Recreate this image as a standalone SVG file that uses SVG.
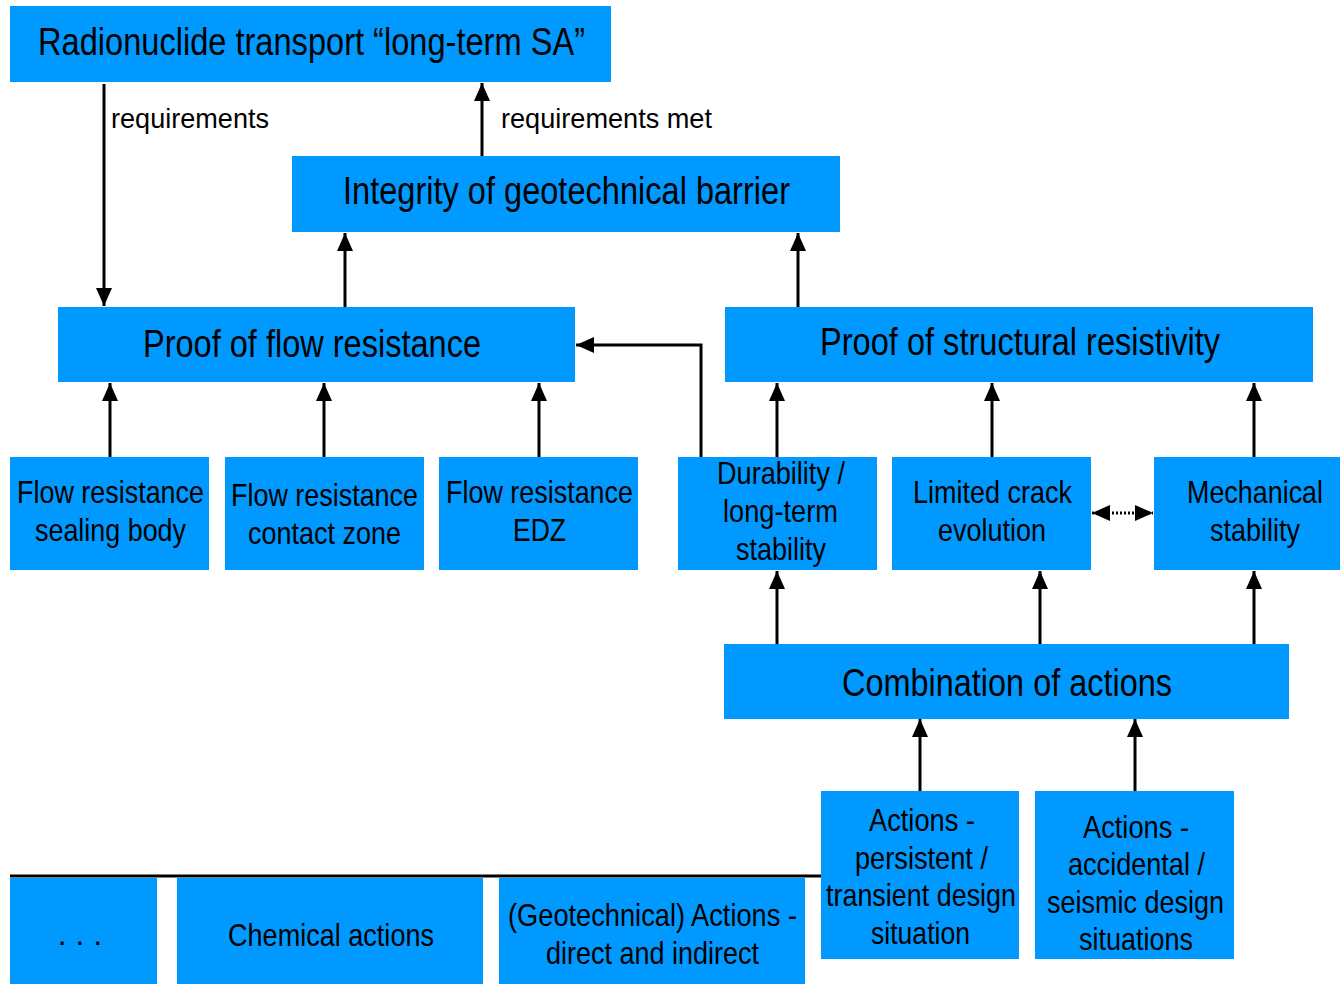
<svg xmlns="http://www.w3.org/2000/svg" width="1340" height="984" viewBox="0 0 1340 984">
<style>
.box{fill:#0099FF;}
text{font-family:"Liberation Sans",Arial,sans-serif;fill:#000;text-anchor:middle;}
.t1{font-size:38px;}
.t2{font-size:32px;}
.lbl{font-size:28px;text-anchor:start;}
.c{stroke:#000;stroke-width:3;fill:none;}
.dot{stroke:#000;stroke-width:3;fill:none;stroke-dasharray:2 2;}
</style>
<defs>
<marker id="ah" markerUnits="userSpaceOnUse" markerWidth="20" markerHeight="16" refX="18" refY="8" orient="auto-start-reverse">
<path d="M0,0 L18,8 L0,16 Z" fill="#000"/>
</marker>
</defs>
<rect x="0" y="0" width="1340" height="984" fill="#fff"/>

<g id="connectors">
<line class="c" x1="104" y1="84" x2="104" y2="306" marker-end="url(#ah)"/>
<line class="c" x1="482" y1="156" x2="482" y2="83" marker-end="url(#ah)"/>
<line class="c" x1="345" y1="307" x2="345" y2="233" marker-end="url(#ah)"/>
<line class="c" x1="798" y1="307" x2="798" y2="233" marker-end="url(#ah)"/>
<line class="c" x1="110" y1="457" x2="110" y2="383" marker-end="url(#ah)"/>
<line class="c" x1="324" y1="457" x2="324" y2="383" marker-end="url(#ah)"/>
<line class="c" x1="539" y1="457" x2="539" y2="383" marker-end="url(#ah)"/>
<line class="c" x1="777" y1="457" x2="777" y2="383" marker-end="url(#ah)"/>
<line class="c" x1="992" y1="457" x2="992" y2="383" marker-end="url(#ah)"/>
<line class="c" x1="1254" y1="457" x2="1254" y2="383" marker-end="url(#ah)"/>
<path class="c" d="M701,457 V345 H576" marker-end="url(#ah)"/>
<line class="dot" x1="1092" y1="513" x2="1153" y2="513" marker-start="url(#ah)" marker-end="url(#ah)"/>
<line class="c" x1="777" y1="644" x2="777" y2="571" marker-end="url(#ah)"/>
<line class="c" x1="1040" y1="644" x2="1040" y2="571" marker-end="url(#ah)"/>
<line class="c" x1="1254" y1="644" x2="1254" y2="571" marker-end="url(#ah)"/>
<line class="c" x1="920" y1="791" x2="920" y2="719" marker-end="url(#ah)"/>
<line class="c" x1="1135" y1="791" x2="1135" y2="719" marker-end="url(#ah)"/>
<line class="c" x1="10" y1="876" x2="821" y2="876"/>
</g>

<g id="n-radionuclide">
<rect class="box" x="10" y="6" width="601" height="76"/>
<text class="t1" x="311.5" y="55" textLength="547" lengthAdjust="spacingAndGlyphs">Radionuclide transport “long-term SA”</text>
</g>
<g id="l-requirements">
<text class="lbl" x="111" y="128" textLength="158" lengthAdjust="spacingAndGlyphs">requirements</text>
</g>
<g id="l-requirements-met">
<text class="lbl" x="501" y="128" textLength="211" lengthAdjust="spacingAndGlyphs">requirements met</text>
</g>
<g id="n-integrity">
<rect class="box" x="292" y="156" width="548" height="76"/>
<text class="t1" x="566.5" y="204" textLength="447" lengthAdjust="spacingAndGlyphs">Integrity of geotechnical barrier</text>
</g>
<g id="n-flow">
<rect class="box" x="58" y="307" width="517" height="75"/>
<text class="t1" x="312" y="357" textLength="338" lengthAdjust="spacingAndGlyphs">Proof of flow resistance</text>
</g>
<g id="n-structural">
<rect class="box" x="725" y="307" width="588" height="75"/>
<text class="t1" x="1020" y="355" textLength="400" lengthAdjust="spacingAndGlyphs">Proof of structural resistivity</text>
</g>

<g id="n-sealing">
<rect class="box" x="10" y="457" width="199" height="113"/>
<text class="t2" x="110.5" y="503" textLength="187" lengthAdjust="spacingAndGlyphs">Flow resistance</text>
<text class="t2" x="110.5" y="541" textLength="151" lengthAdjust="spacingAndGlyphs">sealing body</text>
</g>
<g id="n-contact">
<rect class="box" x="225" y="457" width="199" height="113"/>
<text class="t2" x="324.5" y="506" textLength="187" lengthAdjust="spacingAndGlyphs">Flow resistance</text>
<text class="t2" x="324.5" y="544" textLength="153" lengthAdjust="spacingAndGlyphs">contact zone</text>
</g>
<g id="n-edz">
<rect class="box" x="439" y="457" width="199" height="113"/>
<text class="t2" x="539.5" y="503" textLength="187" lengthAdjust="spacingAndGlyphs">Flow resistance</text>
<text class="t2" x="539.5" y="541" textLength="53" lengthAdjust="spacingAndGlyphs">EDZ</text>
</g>
<g id="n-durability">
<rect class="box" x="678" y="457" width="199" height="113"/>
<text class="t2" x="781" y="484" textLength="128" lengthAdjust="spacingAndGlyphs">Durability /</text>
<text class="t2" x="780.5" y="522" textLength="115" lengthAdjust="spacingAndGlyphs">long-term</text>
<text class="t2" x="781" y="560" textLength="90" lengthAdjust="spacingAndGlyphs">stability</text>
</g>
<g id="n-crack">
<rect class="box" x="892" y="457" width="199" height="113"/>
<text class="t2" x="992.5" y="503" textLength="159" lengthAdjust="spacingAndGlyphs">Limited crack</text>
<text class="t2" x="992" y="541" textLength="108" lengthAdjust="spacingAndGlyphs">evolution</text>
</g>
<g id="n-mechanical">
<rect class="box" x="1154" y="457" width="186" height="113"/>
<text class="t2" x="1255" y="503" textLength="136" lengthAdjust="spacingAndGlyphs">Mechanical</text>
<text class="t2" x="1255" y="541" textLength="90" lengthAdjust="spacingAndGlyphs">stability</text>
</g>

<g id="n-combination">
<rect class="box" x="724" y="644" width="565" height="75"/>
<text class="t1" x="1007" y="696" textLength="330" lengthAdjust="spacingAndGlyphs">Combination of actions</text>
</g>

<g id="n-persistent">
<rect class="box" x="821" y="791" width="198" height="168"/>
<text class="t2" x="922" y="831" textLength="106" lengthAdjust="spacingAndGlyphs">Actions -</text>
<text class="t2" x="921.5" y="869" textLength="133" lengthAdjust="spacingAndGlyphs">persistent /</text>
<text class="t2" x="921" y="906" textLength="190" lengthAdjust="spacingAndGlyphs">transient design</text>
<text class="t2" x="920.5" y="944" textLength="99" lengthAdjust="spacingAndGlyphs">situation</text>
</g>
<g id="n-accidental">
<rect class="box" x="1035" y="791" width="199" height="168"/>
<text class="t2" x="1136" y="838" textLength="106" lengthAdjust="spacingAndGlyphs">Actions -</text>
<text class="t2" x="1136.5" y="875" textLength="137" lengthAdjust="spacingAndGlyphs">accidental /</text>
<text class="t2" x="1135.5" y="913" textLength="177" lengthAdjust="spacingAndGlyphs">seismic design</text>
<text class="t2" x="1136" y="950" textLength="114" lengthAdjust="spacingAndGlyphs">situations</text>
</g>

<g id="n-dots">
<rect class="box" x="10" y="878" width="147" height="106"/>
<text class="t2" x="80" y="945">. . .</text>
</g>
<g id="n-chemical">
<rect class="box" x="177" y="878" width="306" height="106"/>
<text class="t2" x="331" y="946" textLength="206" lengthAdjust="spacingAndGlyphs">Chemical actions</text>
</g>
<g id="n-geotechnical">
<rect class="box" x="499" y="878" width="306" height="106"/>
<text class="t2" x="652.5" y="926" textLength="289" lengthAdjust="spacingAndGlyphs">(Geotechnical) Actions -</text>
<text class="t2" x="652.5" y="964" textLength="213" lengthAdjust="spacingAndGlyphs">direct and indirect</text>
</g>
</svg>
